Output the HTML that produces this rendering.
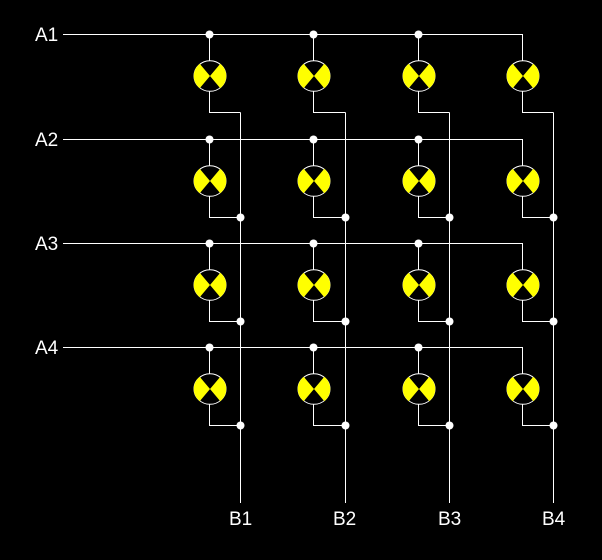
<!DOCTYPE html>
<html><head><meta charset="utf-8"><style>
html,body{margin:0;padding:0;background:#000;}
svg{display:block;}
text{font-family:"Liberation Sans",sans-serif;font-size:19px;fill:#fff;}
</style></head><body>
<svg width="602" height="560" viewBox="0 0 602 560" xmlns="http://www.w3.org/2000/svg">
<rect width="602" height="560" fill="#000"/>
<g stroke="#fff" stroke-width="1" fill="none" shape-rendering="crispEdges">
<polyline points="63,34.5 522.5,34.5 522.5,61"/>
<polyline points="63,139.5 522.5,139.5 522.5,166"/>
<polyline points="63,243.5 522.5,243.5 522.5,270"/>
<polyline points="63,347.5 522.5,347.5 522.5,374"/>
<line x1="240.5" y1="112.5" x2="240.5" y2="503"/>
<line x1="345.5" y1="112.5" x2="345.5" y2="503"/>
<line x1="449.5" y1="112.5" x2="449.5" y2="503"/>
<line x1="553.5" y1="112.5" x2="553.5" y2="503"/>
</g>
<g stroke="#fff" stroke-width="1" fill="none" shape-rendering="crispEdges">
<polyline points="209.5,34.5 209.5,61"/><polyline points="209.5,91 209.5,112.5 240.5,112.5"/>
<polyline points="313.5,34.5 313.5,61"/><polyline points="313.5,91 313.5,112.5 345.5,112.5"/>
<polyline points="418.5,34.5 418.5,61"/><polyline points="418.5,91 418.5,112.5 449.5,112.5"/>
<polyline points="522.5,91 522.5,112.5 553.5,112.5"/>
<polyline points="209.5,139.5 209.5,166"/><polyline points="209.5,196 209.5,217.5 240.5,217.5"/>
<polyline points="313.5,139.5 313.5,166"/><polyline points="313.5,196 313.5,217.5 345.5,217.5"/>
<polyline points="418.5,139.5 418.5,166"/><polyline points="418.5,196 418.5,217.5 449.5,217.5"/>
<polyline points="522.5,196 522.5,217.5 553.5,217.5"/>
<polyline points="209.5,243.5 209.5,270"/><polyline points="209.5,300 209.5,321.5 240.5,321.5"/>
<polyline points="313.5,243.5 313.5,270"/><polyline points="313.5,300 313.5,321.5 345.5,321.5"/>
<polyline points="418.5,243.5 418.5,270"/><polyline points="418.5,300 418.5,321.5 449.5,321.5"/>
<polyline points="522.5,300 522.5,321.5 553.5,321.5"/>
<polyline points="209.5,347.5 209.5,374"/><polyline points="209.5,404 209.5,425.5 240.5,425.5"/>
<polyline points="313.5,347.5 313.5,374"/><polyline points="313.5,404 313.5,425.5 345.5,425.5"/>
<polyline points="418.5,347.5 418.5,374"/><polyline points="418.5,404 418.5,425.5 449.5,425.5"/>
<polyline points="522.5,404 522.5,425.5 553.5,425.5"/>
</g>
<defs>
<g id="lamp">
<ellipse cx="0" cy="0" rx="16" ry="15.3" fill="#000" stroke="#fff" stroke-width="1"/>
<path d="M0,0 L-10.3,-12.2 A16.5,15.8 0 0 0 -10.3,12.2 Z" fill="#ffff00"/>
<path d="M0,0 L10.3,-12.2 A16.5,15.8 0 0 1 10.3,12.2 Z" fill="#ffff00"/>
</g>
</defs>
<use href="#lamp" x="210" y="76"/><use href="#lamp" x="314" y="76"/><use href="#lamp" x="419" y="76"/><use href="#lamp" x="523" y="76"/>
<use href="#lamp" x="210" y="181"/><use href="#lamp" x="314" y="181"/><use href="#lamp" x="419" y="181"/><use href="#lamp" x="523" y="181"/>
<use href="#lamp" x="210" y="285"/><use href="#lamp" x="314" y="285"/><use href="#lamp" x="419" y="285"/><use href="#lamp" x="523" y="285"/>
<use href="#lamp" x="210" y="389"/><use href="#lamp" x="314" y="389"/><use href="#lamp" x="419" y="389"/><use href="#lamp" x="523" y="389"/>
<g fill="#fff">
<circle cx="209.5" cy="34.5" r="4"/><circle cx="313.5" cy="34.5" r="4"/><circle cx="418.5" cy="34.5" r="4"/>
<circle cx="209.5" cy="139.5" r="4"/><circle cx="313.5" cy="139.5" r="4"/><circle cx="418.5" cy="139.5" r="4"/>
<circle cx="209.5" cy="243.5" r="4"/><circle cx="313.5" cy="243.5" r="4"/><circle cx="418.5" cy="243.5" r="4"/>
<circle cx="209.5" cy="347.5" r="4"/><circle cx="313.5" cy="347.5" r="4"/><circle cx="418.5" cy="347.5" r="4"/>
<circle cx="240.5" cy="217.5" r="4"/><circle cx="345.5" cy="217.5" r="4"/><circle cx="449.5" cy="217.5" r="4"/><circle cx="553.5" cy="217.5" r="4"/>
<circle cx="240.5" cy="321.5" r="4"/><circle cx="345.5" cy="321.5" r="4"/><circle cx="449.5" cy="321.5" r="4"/><circle cx="553.5" cy="321.5" r="4"/>
<circle cx="240.5" cy="425.5" r="4"/><circle cx="345.5" cy="425.5" r="4"/><circle cx="449.5" cy="425.5" r="4"/><circle cx="553.5" cy="425.5" r="4"/>
</g>
<text x="35" y="41">A1</text>
<text x="35" y="146">A2</text>
<text x="35" y="250">A3</text>
<text x="35" y="354">A4</text>
<text x="229" y="525">B1</text>
<text x="333" y="525">B2</text>
<text x="438" y="525">B3</text>
<text x="542" y="525">B4</text>
</svg>
</body></html>
